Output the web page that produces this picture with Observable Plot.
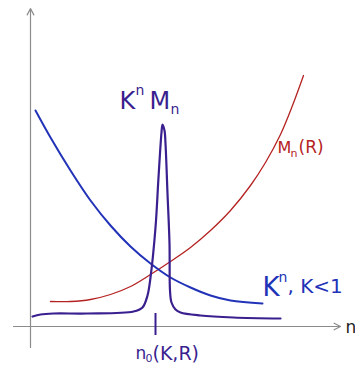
<!DOCTYPE html>
<html>
<head>
<meta charset="utf-8">
<script src="https://cdn.jsdelivr.net/npm/d3@7"></script>
<script src="https://cdn.jsdelivr.net/npm/@observablehq/plot@0.6"></script>
<style>
  html, body { margin: 0; padding: 0; background: #fff; }
  #chart svg { display: block; }
</style>
</head>
<body>
<div id="chart"></div>
<script>
// ---- Data (arbitrary units) ----
// K^n, K<1  (decreasing)
const kn_n = [5, 20, 40, 60, 80, 100, 120, 140, 160, 180, 200, 232];
const kn_v = [216, 189, 156, 126, 101, 80, 63, 49, 39, 31, 26, 23];

// M_n(R)  (increasing)
const mn_n = [20, 40, 60, 80, 100, 120, 140, 160, 180, 200, 220, 235, 250, 262, 273];
const mn_v = [25, 25, 27, 32, 40, 52, 65, 79, 96, 116, 141, 164, 192, 221, 251];

// K^n M_n  (sharp peak at n0)
const kmn_n = [2, 10, 23, 57, 103, 112, 117, 120, 125, 128, 131, 132, 134, 135, 137, 139, 139.5, 141, 145, 150, 170, 203, 250];
const kmn_v = [10, 12, 13, 13, 15, 19, 31, 49, 99, 149, 194, 202, 196, 183, 133, 83, 36, 24, 17, 14, 11, 9, 8];

// n0(K,R) tick position
const n0 = 125;

const blue = "#2233b8", red = "#b52222", purple = "#3a1f8f", gray = "#8c8c8c";

const series = (ns, vs) => ns.map((n, i) => ({n, v: vs[i]}));
const knData = series(kn_n, kn_v);
const mnData = series(mn_n, mn_v);
const kmnData = series(kmn_n, kmn_v);

// axes extents (arrows)
const axes = [
  {x1: -17, y1: 0, x2: 310, y2: 0},
  {x1: 0, y1: -21, x2: 0, y2: 318}
];

const font = "DejaVu Sans";
const lbl = (t, x, y, fill, size) =>
  Plot.text([t], {x, y, text: d => d, fill, fontSize: size, textAnchor: "start", lineAnchor: "bottom"});

const chart = Plot.plot({
  width: 355,
  height: 365,
  margin: 0,
  x: {domain: [-30, 325], axis: null},
  y: {domain: [-39, 326], axis: null},
  style: {fontFamily: font, background: "#fff"},
  marks: [
    Plot.arrow(axes, {x1: "x1", y1: "y1", x2: "x2", y2: "y2", stroke: gray, strokeWidth: 1.2, headLength: 9, headAngle: 55}),
    Plot.line(mnData, {x: "n", y: "v", curve: "catmull-rom", stroke: red, strokeWidth: 1.3}),
    Plot.line(knData, {x: "n", y: "v", curve: "catmull-rom", stroke: blue, strokeWidth: 2}),
    Plot.line(kmnData, {x: "n", y: "v", curve: "catmull-rom", stroke: purple, strokeWidth: 2.2}),
    Plot.ruleX([n0], {y1: 13, y2: -9, stroke: purple, strokeWidth: 2}),
    // K^n M_n
    lbl("K", 89, 218, purple, 24),
    lbl("n", 105, 232, purple, 14),
    lbl("M", 119, 218, purple, 24),
    lbl("n", 140, 213, purple, 14),
    // M_n(R)
    lbl("M", 247, 174, red, 16),
    lbl("n", 260, 170, red, 11),
    lbl("(R)", 268, 174, red, 17),
    // K^n, K<1
    lbl("K", 232, 31, blue, 26),
    lbl("n", 248, 45, blue, 14),
    lbl(", K<1", 257, 34, blue, 20),
    // n0(K,R)
    lbl("n", 105, -32, purple, 17),
    lbl("0", 115, -35, purple, 11),
    lbl("(K,R)", 122, -33, purple, 19),
    // axis label n
    lbl("n", 315, -6, "#222", 17)
  ]
});
document.getElementById("chart").appendChild(chart);
</script>
</body>
</html>
